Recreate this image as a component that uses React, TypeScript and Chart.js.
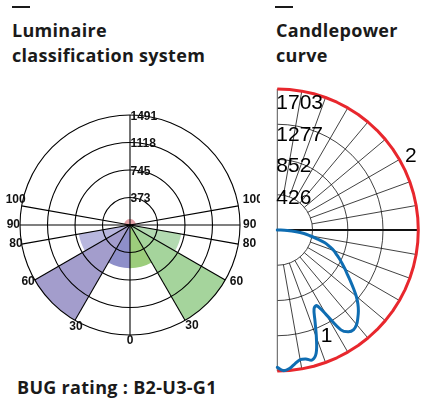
import React, { useEffect, useRef } from "react";
import { Chart, registerables } from "chart.js";

Chart.register(...registerables);

// ---------- Luminaire classification system (BUG) ----------
const bugZones = ["BL", "BM", "BH", "BVH", "UL back", "UH back", "UH front", "UL front", "FVH", "FH", "FM", "FL"];
const bugZoneSpans = [30, 30, 20, 10, 10, 80, 80, 10, 10, 20, 30, 30];
const bugLumens = [587, 1491, 705, 0, 80, 80, 80, 80, 0, 705, 1491, 587];
const bugColors = ["#8e8fc9", "#a39dcc", "#b8b7de", "#b8b7de", "#e2a1a6", "#e2a1a6", "#e2a1a6", "#e2a1a6", "#b3dab1", "#b3dab1", "#a5d49c", "#9ccd7c"];
const bugRingTicks = [373, 745, 1118, 1491];
const bugScaleMax = 1491;
const bugSpokeAngles = [30, 60, 80, 90, 100];
const bugAngleLabels = [0, 30, 60, 80, 90, 100];
const bugRating = "BUG rating : B2-U3-G1";

// ---------- Candlepower curve ----------
const cpRingTicks = [426, 852, 1277, 1703];
const cpSpokeAngles = [10, 20, 30, 40, 50, 60, 70, 80, 100, 110, 120, 130, 140, 150, 160, 170];
const curve1Angles = [0, 2.5, 5, 7.5, 10, 12.5, 15, 17.5, 20, 22.5, 25, 27.5, 30, 32.5, 35, 37.5, 40, 42.5, 45, 47.5, 50, 52.5, 55, 57.5, 60, 62.5, 65, 67.5, 70, 72.5, 75, 77.5, 80, 82.5, 85, 87.5, 90];
const curve1Candela = [1660, 1700, 1680, 1630, 1590, 1595, 1625, 1560, 1380, 1190, 1050, 1030, 1180, 1430, 1500, 1515, 1490, 1440, 1385, 1320, 1245, 1160, 1080, 1005, 945, 885, 830, 775, 725, 660, 595, 490, 400, 325, 230, 120, 0];
const curve2Angles = [0, 5, 10, 15, 20, 25, 30, 35, 40, 45, 50, 55, 60, 65, 70, 75, 80, 85, 90, 95, 100, 105, 110, 115, 120, 125, 130, 135, 140, 145, 150, 155, 160, 165, 170, 175, 180];
const curve2Candela = [1703, 1703, 1703, 1703, 1703, 1703, 1703, 1703, 1703, 1703, 1703, 1703, 1703, 1703, 1703, 1703, 1703, 1703, 1703, 1703, 1703, 1703, 1703, 1703, 1703, 1703, 1703, 1703, 1703, 1703, 1703, 1703, 1703, 1703, 1703, 1703, 1703];
const seriesNames = ["1", "2"];
const seriesLabelAngles = [25, 119];
const seriesLabelCandela = [1410, 1845];

// ---------- layout constants ----------
const D = Math.PI / 180;
const CP_LEFT = 262, CP_TOP = 80, CP_W = 160, CP_H = 305, CP_CX = 15.3, CP_CY = 150, CP_R = 141;

const bugLabelLayout: Record<string, { dx: number; dy: number; align: CanvasTextAlign }> = {
  "L0": { dx: 0, dy: 6, align: "center" },
  "L30": { dx: 1, dy: 6, align: "center" },
  "L60": { dx: 0, dy: 1.5, align: "right" },
  "L80": { dx: 1, dy: 0, align: "right" },
  "L90": { dx: 0, dy: 0, align: "right" },
  "L100": { dx: 4, dy: -6, align: "right" },
  "R30": { dx: 7, dy: 5, align: "center" },
  "R60": { dx: 4.5, dy: 1.5, align: "left" },
  "R80": { dx: 4.5, dy: 0, align: "left" },
  "R90": { dx: 3, dy: 0, align: "left" },
  "R100": { dx: 4.5, dy: -6, align: "left" },
};

const bugPlugin = {
  id: "bugGrid",
  afterDatasetsDraw(chart: any) {
    const r = chart.scales.r;
    const cx = r.xCenter, cy = r.yCenter;
    const R = r.getDistanceFromCenterForValue(bugScaleMax);
    const ctx = chart.ctx as CanvasRenderingContext2D;
    ctx.save();
    ctx.strokeStyle = "#000";
    ctx.lineWidth = 1.1;
    bugRingTicks.forEach((v) => {
      ctx.beginPath();
      ctx.arc(cx, cy, r.getDistanceFromCenterForValue(v), 0, 2 * Math.PI);
      ctx.stroke();
    });
    ctx.beginPath();
    ctx.moveTo(cx, cy - R);
    ctx.lineTo(cx, cy + R);
    ctx.stroke();
    bugSpokeAngles.forEach((a) => {
      [-1, 1].forEach((s) => {
        ctx.beginPath();
        ctx.moveTo(cx, cy);
        ctx.lineTo(cx + s * R * Math.sin(a * D), cy + R * Math.cos(a * D));
        ctx.stroke();
      });
    });
    ctx.fillStyle = "#111";
    ctx.font = 'bold 12px "Liberation Sans", Arial, sans-serif';
    ctx.textAlign = "left";
    ctx.textBaseline = "middle";
    bugRingTicks.forEach((v) => {
      ctx.fillText(String(v), cx + 0.5, cy - r.getDistanceFromCenterForValue(v) + 1.5);
    });
    bugAngleLabels.forEach((a) => {
      const sides = a === 0 ? [-1] : [-1, 1];
      sides.forEach((s) => {
        const lay = bugLabelLayout[(s < 0 ? "L" : "R") + a];
        const ex = cx + s * R * Math.sin(a * D);
        const ey = cy + R * Math.cos(a * D);
        ctx.textAlign = lay.align;
        ctx.fillText(String(a), ex + lay.dx, ey + lay.dy);
      });
    });
    ctx.restore();
  },
};

const cpPlugin = {
  id: "cpGrid",
  beforeDatasetsDraw(chart: any) {
    const xs = chart.scales.x, ys = chart.scales.y;
    const ctx = chart.ctx as CanvasRenderingContext2D;
    const cx = xs.getPixelForValue(0), cy = ys.getPixelForValue(0);
    const rad = (v: number) => xs.getPixelForValue(v) - cx;
    const inner = cpRingTicks[0], outer = cpRingTicks[cpRingTicks.length - 1];
    ctx.save();
    ctx.strokeStyle = "#111";
    ctx.lineWidth = 0.8;
    cpRingTicks.forEach((v) => {
      ctx.beginPath();
      ctx.arc(cx, cy, rad(v), -Math.PI / 2, Math.PI / 2);
      ctx.stroke();
    });
    cpSpokeAngles.forEach((a) => {
      ctx.beginPath();
      ctx.moveTo(cx + rad(inner) * Math.sin(a * D), cy + rad(inner) * Math.cos(a * D));
      ctx.lineTo(cx + rad(outer) * Math.sin(a * D), cy + rad(outer) * Math.cos(a * D));
      ctx.stroke();
    });
    ctx.strokeStyle = "#555";
    ctx.lineWidth = 1;
    ctx.beginPath();
    ctx.moveTo(cx, cy - rad(outer));
    ctx.lineTo(cx, cy + rad(outer));
    ctx.stroke();
    ctx.strokeStyle = "#111";
    ctx.lineWidth = 2;
    ctx.beginPath();
    ctx.moveTo(cx, cy);
    ctx.lineTo(cx + rad(outer), cy);
    ctx.stroke();
    ctx.restore();
  },
  afterDatasetsDraw(chart: any) {
    const xs = chart.scales.x, ys = chart.scales.y;
    const ctx = chart.ctx as CanvasRenderingContext2D;
    const cx = xs.getPixelForValue(0), cy = ys.getPixelForValue(0);
    const rad = (v: number) => xs.getPixelForValue(v) - cx;
    ctx.save();
    ctx.fillStyle = "#000";
    ctx.font = '21px "Liberation Sans", Arial, sans-serif';
    ctx.textBaseline = "middle";
    ctx.textAlign = "left";
    cpRingTicks.forEach((v) => {
      ctx.fillText(String(v), cx - 1, cy - rad(v) * 0.9);
    });
    ctx.textAlign = "center";
    seriesNames.forEach((n, i) => {
      const a = seriesLabelAngles[i] * D;
      const rr = rad(seriesLabelCandela[i]);
      ctx.fillText(n, cx + rr * Math.sin(a), cy + rr * Math.cos(a));
    });
    ctx.restore();
  },
};

function BugChart() {
  const ref = useRef<HTMLCanvasElement>(null);
  useEffect(() => {
    const chart = new Chart(ref.current as HTMLCanvasElement, {
      type: "polarArea",
      data: {
        labels: bugZones,
        datasets: [
          {
            data: bugLumens,
            angle: bugZoneSpans,
            backgroundColor: bugColors,
            borderWidth: 0,
          } as any,
        ],
      },
      options: {
        responsive: false,
        animation: false,
        layout: { padding: { left: 20, right: 20, top: 25, bottom: 25 } },
        plugins: { legend: { display: false }, tooltip: { enabled: false } },
        scales: {
          r: {
            min: 0,
            max: bugScaleMax,
            startAngle: 180,
            ticks: { display: false },
            grid: { display: false },
            angleLines: { display: false },
            pointLabels: { display: false },
          },
        },
      } as any,
      plugins: [bugPlugin],
    });
    return () => chart.destroy();
  }, []);
  return <canvas ref={ref} width={260} height={270} style={{ position: "absolute", left: 0, top: 90 }} />;
}

function CandlepowerChart() {
  const ref = useRef<HTMLCanvasElement>(null);
  useEffect(() => {
    const k = cpRingTicks[cpRingTicks.length - 1] / CP_R;
    const toXY = (angles: number[], vals: number[]) =>
      angles.map((a, i) => ({ x: vals[i] * Math.sin(a * D), y: -vals[i] * Math.cos(a * D) }));
    const chart = new Chart(ref.current as HTMLCanvasElement, {
      type: "scatter",
      data: {
        datasets: [
          {
            label: seriesNames[0],
            data: toXY(curve1Angles, curve1Candela),
            showLine: true,
            borderColor: "#0f6db2",
            borderWidth: 3,
            pointRadius: 0,
            tension: 0.35,
            fill: false,
            clip: false,
            borderJoinStyle: "round",
            borderCapStyle: "round",
          } as any,
          {
            label: seriesNames[1],
            data: toXY(curve2Angles, curve2Candela),
            showLine: true,
            borderColor: "#e8272d",
            borderWidth: 3,
            pointRadius: 0,
            tension: 0,
            fill: false,
            clip: false,
            borderJoinStyle: "round",
          } as any,
        ],
      },
      options: {
        responsive: false,
        animation: false,
        layout: { padding: 0 },
        plugins: { legend: { display: false }, tooltip: { enabled: false } },
        scales: {
          x: { type: "linear", display: false, bounds: "data", min: -CP_CX * k, max: (CP_W - CP_CX) * k },
          y: { type: "linear", display: false, bounds: "data", min: -(CP_H - CP_CY) * k, max: CP_CY * k },
        },
      } as any,
      plugins: [cpPlugin],
    });
    return () => chart.destroy();
  }, []);
  return <canvas ref={ref} width={CP_W} height={CP_H} style={{ position: "absolute", left: CP_LEFT, top: CP_TOP }} />;
}

const textBase: React.CSSProperties = {
  position: "absolute",
  fontFamily: '"Open Sans", "Noto Sans", sans-serif',
  fontWeight: 700,
  fontSize: 18,
  lineHeight: "25px",
  color: "#1a1a1a",
  letterSpacing: "0.3px",
  whiteSpace: "nowrap",
  margin: 0,
};

const dash: React.CSSProperties = { position: "absolute", width: 18, height: 2.5, background: "#1a1a1a", top: 5.5 };

export default function App() {
  return (
    <div style={{ position: "absolute", left: 0, top: 0, width: 422, height: 400, background: "#fff", overflow: "hidden" }}>
      <div style={{ ...dash, left: 12 }} />
      <div style={{ ...dash, left: 275 }} />
      <div style={{ ...textBase, left: 12, top: 17.5 }}>
        Luminaire
        <br />
        classification system
      </div>
      <div style={{ ...textBase, left: 276, top: 17.5 }}>
        Candlepower
        <br />
        curve
      </div>
      <BugChart />
      <CandlepowerChart />
      <div style={{ ...textBase, left: 17, top: 375 }}>{bugRating}</div>
    </div>
  );
}
